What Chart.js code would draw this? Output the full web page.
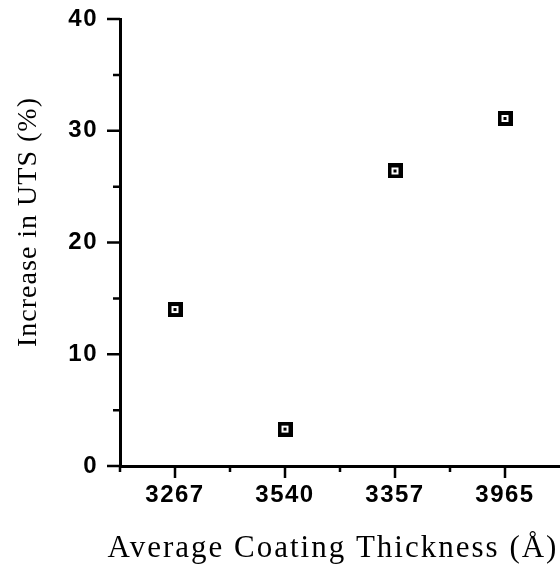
<!DOCTYPE html>
<html>
<head>
<meta charset="utf-8">
<script src="https://cdn.jsdelivr.net/npm/chart.js@4"></script>
<style>
  body { margin: 0; background: #fff; }
  #wrap { width: 560px; height: 565px; }
</style>
</head>
<body>
<div id="wrap"><canvas id="c" width="560" height="565"></canvas></div>
<script>
// data
var thickness = ['3267', '3540', '3357', '3965']
var utsIncrease = [14.0, 3.3, 26.4, 31.1]
var yTicks = [0, 10, 20, 30, 40]

var xTitle = 'Average Coating Thickness (Å)'
var yTitle = 'Increase in UTS (%)'

var sans = '"Liberation Sans", Arial, Helvetica, sans-serif'
var serif = '"Liberation Serif", "Times New Roman", Times, serif'

// marker: thick black square, white hole, black dot in the middle
var marker = document.createElement('canvas')
marker.width = 15
marker.height = 15
var m = marker.getContext('2d')
m.fillStyle = '#000'
m.fillRect(0, 0, 15, 15)
m.fillStyle = '#fff'
m.fillRect(4, 4, 7, 7)
m.fillStyle = '#000'
m.fillRect(6, 6, 3, 3)

// tick marks + axis titles drawn by hand (major/minor lengths differ)
var axisDecor = {
  id: 'axisDecor',
  beforeDraw: function (chart) {
    chart.ctx.letterSpacing = '1.5px'
  },
  beforeDatasetsDraw: function (chart) {
    chart.ctx.letterSpacing = '0px'
  },
  afterDraw: function (chart) {
    var ctx = chart.ctx
    var x = chart.scales.x
    var y = chart.scales.y
    var area = chart.chartArea
    ctx.save()
    ctx.strokeStyle = '#000'
    ctx.lineWidth = 2.5
    ctx.beginPath()
    // y ticks, every 5 with long ones on the labelled values
    for (var v = 0; v <= 40; v += 5) {
      var py = y.getPixelForValue(v)
      var len = yTicks.indexOf(v) >= 0 ? 13 : 7
      ctx.moveTo(area.left - len, py)
      ctx.lineTo(area.left, py)
    }
    // x ticks: long at each category, short between
    var step = x.getPixelForValue(1) - x.getPixelForValue(0)
    thickness.forEach(function (t, i) {
      var px = x.getPixelForValue(i)
      ctx.moveTo(px, area.bottom)
      ctx.lineTo(px, area.bottom + 12)
      ctx.moveTo(px - step / 2, area.bottom)
      ctx.lineTo(px - step / 2, area.bottom + 6)
    })
    ctx.stroke()

    // axis titles
    ctx.fillStyle = '#000'
    ctx.letterSpacing = '2px'
    ctx.font = '31px ' + serif
    ctx.textAlign = 'center'
    ctx.textBaseline = 'alphabetic'
    ctx.fillText(xTitle, 333, 557)

    ctx.letterSpacing = '1px'
    ctx.font = '28px ' + serif
    ctx.translate(29, 222)
    ctx.rotate(-Math.PI / 2)
    ctx.textBaseline = 'middle'
    ctx.fillText(yTitle, 0, 0)
    ctx.restore()
  }
}

new Chart(document.getElementById('c'), {
  type: 'line',
  data: {
    labels: thickness,
    datasets: [{
      data: utsIncrease,
      showLine: false,
      pointStyle: marker,
      pointRadius: 8
    }]
  },
  options: {
    responsive: false,
    animation: false,
    layout: { autoPadding: false, padding: { top: 19, left: 0, right: 0, bottom: 0 } },
    plugins: { legend: { display: false }, tooltip: { enabled: false } },
    scales: {
      x: {
        offset: true,
        grid: { display: true, drawOnChartArea: false, drawTicks: false },
        border: { display: true, color: '#000', width: 3 },
        ticks: {
          color: '#000',
          padding: 15,
          maxRotation: 0,
          font: { family: sans, size: 24, weight: 'bold' }
        },
        afterFit: function (s) {
          s.height = 99
          s.paddingLeft = 0
          s.paddingRight = 0
        }
      },
      y: {
        min: 0,
        max: 40,
        grid: { display: true, drawOnChartArea: false, drawTicks: false },
        border: { display: true, color: '#000', width: 3 },
        ticks: {
          stepSize: 10,
          color: '#000',
          padding: 22,
          font: { family: sans, size: 24, weight: 'bold' }
        },
        afterFit: function (s) {
          s.width = 120
          s.paddingTop = 0
          s.paddingBottom = 0
        }
      }
    }
  },
  plugins: [axisDecor]
})
</script>
</body>
</html>
